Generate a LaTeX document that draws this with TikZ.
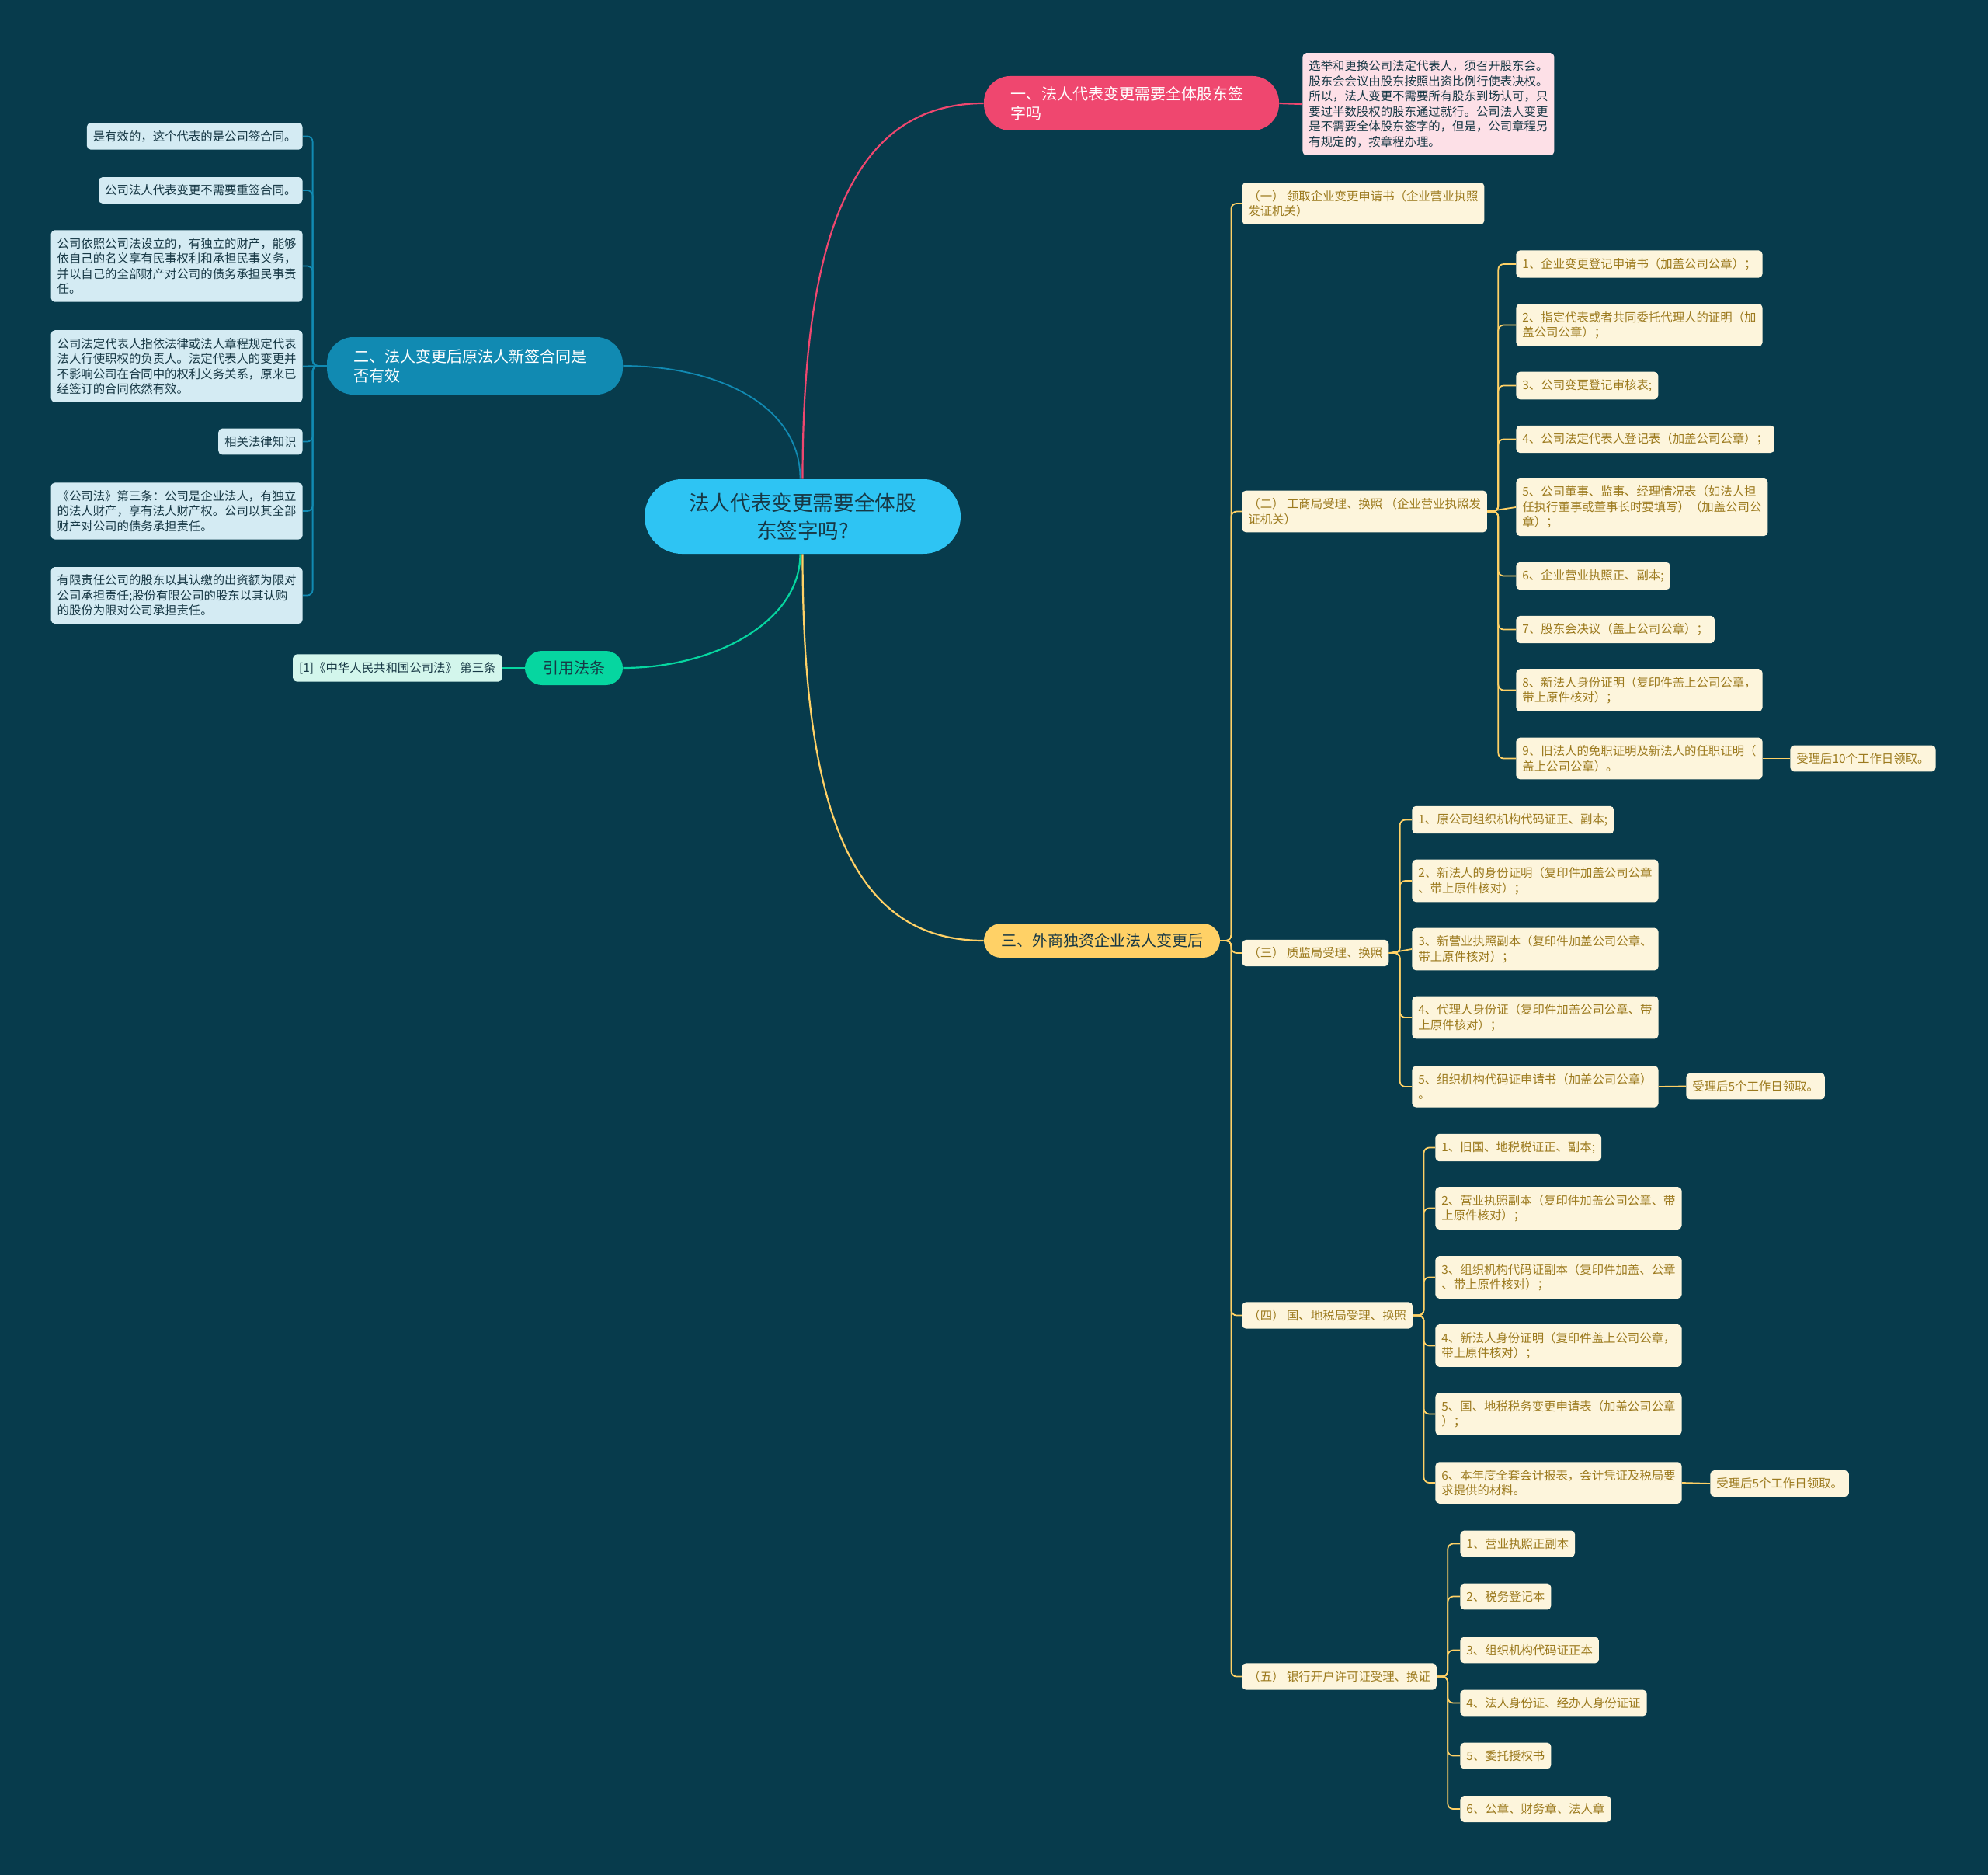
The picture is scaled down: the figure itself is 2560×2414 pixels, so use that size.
\documentclass[tikz,border=0pt]{standalone}
\usepackage{fontspec}
\setmainfont{Noto Sans CJK SC}
\usetikzlibrary{positioning}

\definecolor{bgteal}{HTML}{073B4C}
\definecolor{rootcyan}{HTML}{2EC4F3}
\definecolor{pinkmain}{HTML}{EF476F}
\definecolor{bluemain}{HTML}{118AB2}
\definecolor{yellowmain}{HTML}{FFD166}
\definecolor{greenmain}{HTML}{06D6A0}
\definecolor{notefill}{HTML}{FDE0E7}
\definecolor{leafbluefill}{HTML}{D4EBF3}
\definecolor{creamfill}{HTML}{FDF5DC}
\definecolor{citefill}{HTML}{D3F6EC}
\definecolor{goldtext}{HTML}{9C7A1E}
\definecolor{darktext}{HTML}{173845}

\tikzset{
  leafbase/.style={rounded corners=2.5pt, inner xsep=4pt, inner ysep=4.9pt, align=left,
    font=\fontsize{7.7}{9.75}\selectfont},
  leafblue/.style={leafbase, fill=leafbluefill, text=darktext, anchor=east},
  leafcream/.style={leafbase, fill=creamfill, text=goldtext, anchor=west},
  notepink/.style={leafbase, fill=notefill, text=darktext, anchor=west},
  citegreen/.style={leafbase, fill=citefill, text=darktext, anchor=east},
  topicbase/.style={rounded corners=17pt, font=\fontsize{10}{12.5}\selectfont},
  topicpink/.style={topicbase, fill=pinkmain, text=white, align=left, text width=156pt,
    inner xsep=17pt, minimum height=35pt},
  topicblue/.style={topicbase, fill=bluemain, text=white, align=left, text width=156.5pt,
    inner xsep=17pt, minimum height=37pt},
  topicyellow/.style={topicbase, rounded corners=11pt, fill=yellowmain, text=darktext,
    minimum width=152pt, minimum height=22pt, inner sep=0pt},
  topicgreen/.style={topicbase, rounded corners=11pt, fill=greenmain, text=darktext,
    minimum width=63pt, minimum height=22pt, inner sep=0pt},
  mainq/.style={rounded corners=24pt, fill=rootcyan, text=darktext, align=center,
    minimum width=203.5pt, minimum height=48pt, font=\fontsize{13.3}{18}\selectfont},
  lpink/.style={draw=pinkmain, line width=1.1pt},
  lblue/.style={draw=bluemain, line width=0.9pt},
  lyellow/.style={draw=yellowmain, line width=0.9pt},
  lgreen/.style={draw=greenmain, line width=1.1pt},
  elbow/.style={rounded corners=3.5pt}
}

\begin{document}
\begin{tikzpicture}[x=0.5pt,y=-0.5pt]
\fill[bgteal] (0,0) rectangle (2560,2414);
\useasboundingbox (0,0) rectangle (2560,2414);

% root
\node[mainq] (q) at (1033.5,665) {法人代表变更需要全体股\\东签字吗?};

% branch one
\node[topicpink] (n1) at (1457,133) {一、法人代表变更需要全体股东签\\字吗};
\node[notepink] (note1) at (1677,134) {选举和更换公司法定代表人，须召开股东会。\\股东会会议由股东按照出资比例行使表决权。\\所以，法人变更不需要所有股东到场认可，只\\要过半数股权的股东通过就行。公司法人变更\\是不需要全体股东签字的，但是，公司章程另\\有规定的，按章程办理。};

% branch two
\node[topicblue] (n2) at (611.5,471) {二、法人变更后原法人新签合同是\\否有效};
\node[leafblue] (k1) at (390,175.5) {是有效的，这个代表的是公司签合同。};
\node[leafblue] (k2) at (390,245) {公司法人代表变更不需要重签合同。};
\node[leafblue] (k3) at (390,342.5) {公司依照公司法设立的，有独立的财产，能够\\依自己的名义享有民事权利和承担民事义务，\\并以自己的全部财产对公司的债务承担民事责\\任。};
\node[leafblue] (k4) at (390,471.5) {公司法定代表人指依法律或法人章程规定代表\\法人行使职权的负责人。法定代表人的变更并\\不影响公司在合同中的权利义务关系，原来已\\经签订的合同依然有效。};
\node[leafblue] (k5) at (390,568.5) {相关法律知识};
\node[leafblue] (k6) at (390,658) {《公司法》第三条：公司是企业法人，有独立\\的法人财产，享有法人财产权。公司以其全部\\财产对公司的债务承担责任。};
\node[leafblue] (k7) at (390,766.5) {有限责任公司的股东以其认缴的出资额为限对\\公司承担责任;股份有限公司的股东以其认购\\的股份为限对公司承担责任。};

% cited law
\node[topicgreen] (law) at (739,860) {引用法条};
\node[citegreen] (cite) at (647,860) {[1]《中华人民共和国公司法》 第三条};

% branch three
\node[topicyellow] (n3) at (1419,1211) {三、外商独资企业法人变更后};
\node[leafcream] (s1) at (1599,262) {（一） 领取企业变更申请书（企业营业执照\\发证机关）};
\node[leafcream] (s2) at (1599,658.5) {（二） 工商局受理、换照 （企业营业执照发\\证机关）};
\node[leafcream] (s3) at (1599,1227) {（三） 质监局受理、换照};
\node[leafcream] (s4) at (1599,1693.5) {（四） 国、地税局受理、换照};
\node[leafcream] (s5) at (1599,2158.5) {（五） 银行开户许可证受理、换证};

\node[leafcream] (a1) at (1952,340) {1、企业变更登记申请书（加盖公司公章）；};
\node[leafcream] (a2) at (1952,418.5) {2、指定代表或者共同委托代理人的证明（加\\盖公司公章）；};
\node[leafcream] (a3) at (1952,496.5) {3、公司变更登记审核表;};
\node[leafcream] (a4) at (1952,565.5) {4、公司法定代表人登记表（加盖公司公章）；};
\node[leafcream] (a5) at (1952,653) {5、公司董事、监事、经理情况表（如法人担\\任执行董事或董事长时要填写）（加盖公司公\\章）；};
\node[leafcream] (a6) at (1952,741.5) {6、企业营业执照正、副本;};
\node[leafcream] (a7) at (1952,810.5) {7、股东会决议（盖上公司公章）；};
\node[leafcream] (a8) at (1952,888.5) {8、新法人身份证明（复印件盖上公司公章，\\带上原件核对）；};
\node[leafcream] (a9) at (1952,976.5) {9、旧法人的免职证明及新法人的任职证明（\\盖上公司公章）。};
\node[leafcream] (t10) at (2305,976.5) {受理后10个工作日领取。};

\node[leafcream] (b1) at (1818,1055.5) {1、原公司组织机构代码证正、副本;};
\node[leafcream] (b2) at (1818,1134) {2、新法人的身份证明（复印件加盖公司公章\\、带上原件核对）；};
\node[leafcream] (b3) at (1818,1222) {3、新营业执照副本（复印件加盖公司公章、\\带上原件核对）；};
\node[leafcream] (b4) at (1818,1310) {4、代理人身份证（复印件加盖公司公章、带\\上原件核对）；};
\node[leafcream] (b5) at (1818,1399) {5、组织机构代码证申请书（加盖公司公章）\\。};
\node[leafcream] (t5a) at (2171,1398.5) {受理后5个工作日领取。};

\node[leafcream] (c1) at (1848,1477.5) {1、旧国、地税税证正、副本;};
\node[leafcream] (c2) at (1848,1555.5) {2、营业执照副本（复印件加盖公司公章、带\\上原件核对）；};
\node[leafcream] (c3) at (1848,1644.5) {3、组织机构代码证副本（复印件加盖、公章\\、带上原件核对）；};
\node[leafcream] (c4) at (1848,1732.5) {4、新法人身份证明（复印件盖上公司公章，\\带上原件核对）；};
\node[leafcream] (c5) at (1848,1820.5) {5、国、地税税务变更申请表（加盖公司公章\\）；};
\node[leafcream] (c6) at (1848,1909) {6、本年度全套会计报表，会计凭证及税局要\\求提供的材料。};
\node[leafcream] (t5b) at (2202,1910) {受理后5个工作日领取。};

\node[leafcream] (d1) at (1880,1987.5) {1、营业执照正副本};
\node[leafcream] (d2) at (1880,2055.5) {2、税务登记本};
\node[leafcream] (d3) at (1880,2124.5) {3、组织机构代码证正本};
\node[leafcream] (d4) at (1880,2192.5) {4、法人身份证、经办人身份证证};
\node[leafcream] (d5) at (1880,2260.5) {5、委托授权书};
\node[leafcream] (d6) at (1880,2329) {6、公章、财务章、法人章};

% main branches
\draw[lpink] (q.north) .. controls +(0,-317) and +(-167,0) .. (n1.west);
\draw[lblue] ([xshift=-1.5pt]q.north) .. controls +(0,-97) and +(118,0) .. (n2.east);
\draw[lyellow, line width=1.1pt] (q.south) .. controls +(0,337) and +(-167,0) .. (n3.west);
\draw[lgreen] ([xshift=-1.5pt]q.south) .. controls +(0,87) and +(118,0) .. (law.east);
\draw[lpink] (n1.east) -- (note1.west);
\draw[lgreen] (law.west) -- (cite.east);

% sub branches
\foreach \c in {k1,k2,k3,k5,k6,k7}
  \draw[lblue, elbow] (n2.west) -- ++(-18,0) |- (\c.east);
\draw[lblue] (n2.west) -- (k4.east);
\foreach \c in {s1,s2,s3,s4,s5}
  \draw[lyellow, elbow] (n3.east) -- ++(14,0) |- (\c.west);
\foreach \c in {a1,a2,a3,a4,a6,a7,a8,a9}
  \draw[lyellow, elbow] (s2.east) -- ++(14,0) |- (\c.west);
\draw[lyellow] (s2.east) -- (a5.west);
\foreach \c in {b1,b2,b4,b5}
  \draw[lyellow, elbow] (s3.east) -- ++(14,0) |- (\c.west);
\draw[lyellow] (s3.east) -- (b3.west);
\foreach \c in {c1,c2,c3,c4,c5,c6}
  \draw[lyellow, elbow] (s4.east) -- ++(14,0) |- (\c.west);
\foreach \c in {d1,d2,d3,d4,d5,d6}
  \draw[lyellow, elbow] (s5.east) -- ++(14,0) |- (\c.west);
\draw[lyellow] (a9.east) -- (t10.west);
\draw[lyellow] (b5.east) -- (t5a.west);
\draw[lyellow] (c6.east) -- (t5b.west);
\end{tikzpicture}
\end{document}
